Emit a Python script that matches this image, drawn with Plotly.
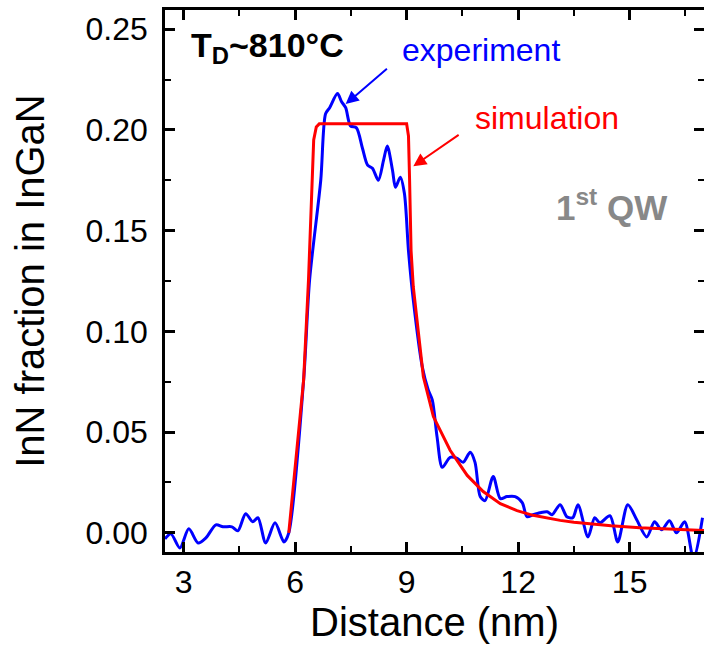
import plotly.graph_objects as go

# Experiment (blue) profile
exp_x = [2.50, 2.66, 2.90, 3.14, 3.39, 3.60, 3.87, 4.06, 4.30, 4.46, 4.67, 4.86, 5.00, 5.21, 5.46,
         5.70, 5.83, 6.23, 6.39, 6.69, 6.82, 6.93, 7.14, 7.25, 7.36, 7.49, 7.65, 7.81, 7.95, 8.08,
         8.24, 8.38, 8.48, 8.62, 8.70, 8.83, 8.94, 9.05, 9.18, 9.42, 9.58, 9.69, 9.82, 9.96, 10.17,
         10.36, 10.52, 10.71, 10.84, 10.98, 11.11, 11.33, 11.52, 11.70, 11.92, 12.11, 12.24, 12.40,
         12.59, 12.78, 12.91, 13.13, 13.31, 13.47, 13.61, 13.88, 14.06, 14.20, 14.47, 14.68, 14.95,
         15.19, 15.46, 15.67, 15.86, 16.07, 16.26, 16.48, 16.72, 16.96]
exp_y = [-0.003, -0.0005, -0.0075, 0.002, -0.005, -0.0025, 0.004, 0.003, 0.003, 0.001, 0.0095,
         0.0055, 0.0075, -0.005, 0.005, -0.0045, 0.000, 0.076, 0.1255, 0.175, 0.208, 0.211, 0.218,
         0.214, 0.211, 0.202, 0.201, 0.191, 0.1825, 0.181, 0.175, 0.185, 0.192, 0.180, 0.1715,
         0.1765, 0.1685, 0.140, 0.1155, 0.0825, 0.071, 0.066, 0.0475, 0.0325, 0.0375, 0.037, 0.035,
         0.040, 0.035, 0.018, 0.016, 0.028, 0.017, 0.018, 0.018, 0.015, 0.008, 0.009, 0.010, 0.0105,
         0.009, 0.014, 0.008, 0.0075, 0.014, -0.002, 0.0075, 0.005, 0.0085, -0.0045, 0.014, 0.0065,
         -0.002, 0.0055, 0.0015, 0.006, 0.000, 0.0055, -0.013, 0.0075]

# Simulation (red) profile
sim_x = [5.83, 6.23, 6.36, 6.50, 6.57, 6.65, 9.00, 9.05, 9.08, 9.12, 9.18, 9.25, 9.45, 9.72,
         10.17, 10.63, 11.06, 11.52, 11.97, 12.40, 12.80, 13.13, 13.50, 13.93, 14.50, 15.27,
         16.00, 16.96, 17.0]
sim_y = [0.000, 0.076, 0.1255, 0.195, 0.2015, 0.203, 0.203, 0.197, 0.175, 0.140, 0.122, 0.110,
         0.0775, 0.0577, 0.041, 0.0285, 0.0205, 0.0145, 0.0110, 0.0087, 0.0072, 0.0062, 0.0053,
         0.0045, 0.0035, 0.0025, 0.0018, 0.0012, 0.0012]

x_ticks = [3, 6, 9, 12, 15]
y_ticks = [0.00, 0.05, 0.10, 0.15, 0.20, 0.25]
y_tick_text = ["0.00", "0.05", "0.10", "0.15", "0.20", "0.25"]

FONT = "Arial, Liberation Sans, sans-serif"

fig = go.Figure()
fig.add_trace(go.Scatter(x=exp_x, y=exp_y, mode="lines",
                         line=dict(color="#0000FF", width=3, shape="spline", smoothing=0.8),
                         showlegend=False))
fig.add_trace(go.Scatter(x=sim_x, y=sim_y, mode="lines",
                         line=dict(color="#FF0000", width=3),
                         showlegend=False))

axis_common = dict(showline=True, linecolor="black", linewidth=2.5, mirror="ticks",
                   ticks="inside", ticklen=10, tickwidth=2.5, tickcolor="black",
                   showgrid=False, zeroline=False, automargin=False,
                   tickfont=dict(family=FONT, size=32, color="black"))

fig.update_xaxes(range=[2.5, 17], tickvals=x_ticks,
                 minor=dict(ticks="inside", ticklen=6, tickwidth=2, tickcolor="black", dtick=1.5, tick0=1.5),
                 title=dict(text="Distance (nm)", font=dict(family=FONT, size=40, color="black"), standoff=9),
                 **axis_common)
fig.update_yaxes(range=[-0.0095, 0.2595], tickvals=y_ticks, ticktext=y_tick_text,
                 ticklabelstandoff=8,
                 minor=dict(ticks="inside", ticklen=6, tickwidth=2, tickcolor="black", dtick=0.025, tick0=0),
                 title=dict(text="InN fraction in InGaN", font=dict(family=FONT, size=40, color="black"), standoff=29),
                 **axis_common)

annotations = [
    dict(x=3.14, y=0.241, xref="x", yref="y", text="<b>T<sub>D</sub>~810°C</b>", showarrow=False,
         xanchor="left", yanchor="middle", font=dict(family=FONT, size=34, color="black")),
    dict(x=8.83, y=0.2395, xref="x", yref="y", text="experiment", showarrow=False,
         xanchor="left", yanchor="middle", font=dict(family=FONT, size=32, color="#0000FF")),
    dict(x=10.79, y=0.206, xref="x", yref="y", text="simulation", showarrow=False,
         xanchor="left", yanchor="middle", font=dict(family=FONT, size=32, color="#FF0000")),
    dict(x=12.96, y=0.1625, xref="x", yref="y", text="<b>1<sup>st</sup> QW</b>", showarrow=False,
         xanchor="left", yanchor="middle", font=dict(family=FONT, size=35, color="#888888")),
    dict(x=7.36, y=0.2128, xref="x", yref="y", ax=8.51, ay=0.231, axref="x", ayref="y",
         text="", showarrow=True, arrowhead=2, arrowsize=1.3, arrowwidth=2, arrowcolor="#0000FF"),
    dict(x=9.18, y=0.182, xref="x", yref="y", ax=10.44, ay=0.198, axref="x", ayref="y",
         text="", showarrow=True, arrowhead=2, arrowsize=1.3, arrowwidth=2, arrowcolor="#FF0000"),
]

fig.update_layout(width=704, height=647, margin=dict(l=165, r=0, t=10, b=95),
                  paper_bgcolor="white", plot_bgcolor="white",
                  annotations=annotations, font=dict(family=FONT))

# remove the default page margin so the figure sits at the window's top-left corner
fig.write_html("out.html", config={"displayModeBar": False},
               post_script="document.body.style.margin='0px';document.body.style.overflow='hidden';")
